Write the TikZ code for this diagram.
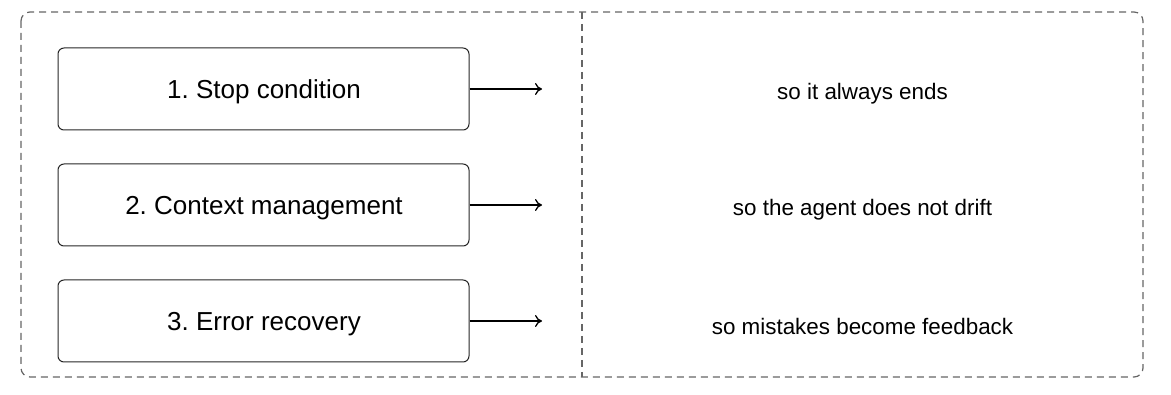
\documentclass[tikz,border=0pt]{standalone}
\usepackage{fontspec}
\setmainfont{Liberation Sans}
\usetikzlibrary{arrows.meta}
\frenchspacing
\begin{document}
\begin{tikzpicture}[x=1pt,y=-1pt,
  outer/.style={draw=black!60, dashed, dash pattern=on 7pt off 5pt, line width=1.2pt},
  itembox/.style={draw=black!85, line width=1pt, rounded corners=6pt, minimum width=411pt, minimum height=82pt},
  itemtext/.style={font=\fontsize{26}{31}\selectfont},
  reason/.style={font=\fontsize{22.4}{27}\selectfont},
  conn/.style={draw=black, line width=1.3pt, -{To[length=7pt,width=12pt]}}]
\useasboundingbox (0,0) rectangle (1171,395);
\draw[outer, rounded corners=9pt] (21,12) rectangle (1143,377);
\coordinate (vt) at (582,12);
\coordinate (vb) at (582,377);
\draw[outer] (vt) -- (vb);
\node[itembox] (b1) at (263.5,89) {};
\node[itembox] (b2) at (263.5,205) {};
\node[itembox] (b3) at (263.5,321) {};
\node[itemtext] (t1) at (264,92) {1. Stop condition};
\node[itemtext] (t2) at (264,208) {2. Context management};
\node[itemtext] (t3) at (264,324) {3. Error recovery};
\coordinate (e1) at (542,89);
\coordinate (e2) at (542,205);
\coordinate (e3) at (542,321);
\draw[conn] (b1.east) -- (e1);
\draw[conn] (b2.east) -- (e2);
\draw[conn] (b3.east) -- (e3);
\node[reason] (r1) at (862.5,94) {so it always ends};
\node[reason] (r2) at (862.5,210) {so the agent does not drift};
\node[reason] (r3) at (862.5,326) {so mistakes become feedback};
\end{tikzpicture}
\end{document}
